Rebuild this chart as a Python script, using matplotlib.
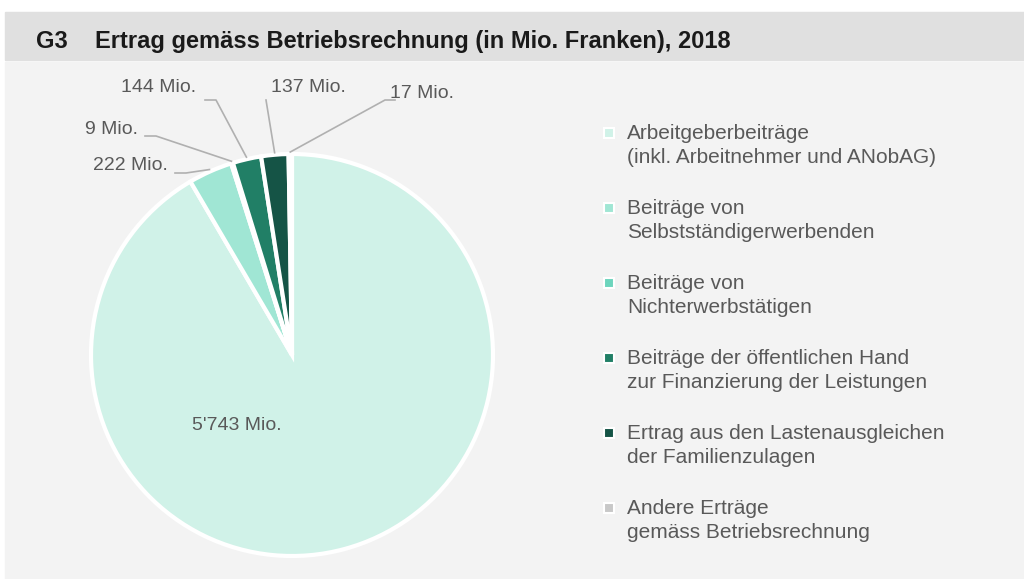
import matplotlib.pyplot as plt
from matplotlib.lines import Line2D
from matplotlib.patches import Rectangle
import numpy as np

plt.rcParams['font.family'] = ['Liberation Sans', 'DejaVu Sans']

# data
categories = ['Arbeitgeberbeiträge\n(inkl. Arbeitnehmer und ANobAG)',
              'Beiträge von\nSelbstständigerwerbenden',
              'Beiträge von\nNichterwerbstätigen',
              'Beiträge der öffentlichen Hand\nzur Finanzierung der Leistungen',
              'Ertrag aus den Lastenausgleichen\nder Familienzulagen',
              'Andere Erträge\ngemäss Betriebsrechnung']
values = [5743, 222, 9, 144, 137, 17]
value_labels = ["5'743 Mio.", '222 Mio.', '9 Mio.', '144 Mio.', '137 Mio.', '17 Mio.']
colors = ['#d0f2e8', '#a0e6d4', '#6dd5bd', '#217f66', '#155446', '#c8c8c8']

W, H = 1024, 579
fig = plt.figure(figsize=(W / 100, H / 100), dpi=100)
fig.patch.set_facecolor('white')

# background panels (figure pixel coords)
fig.patches.append(Rectangle((5 / W, 0), 1 - 5 / W, (H - 62) / H, transform=fig.transFigure,
                             color='#f3f3f3', zorder=-5))
fig.patches.append(Rectangle((5 / W, (H - 60) / H), 1 - 5 / W, 48 / H, transform=fig.transFigure,
                             color='#e0e0e0', zorder=-5))
fig.text(36 / W, 1 - 48 / H, 'G3', fontsize=17, fontweight='bold', color='#1a1a1a', va='baseline')
fig.text(95 / W, 1 - 48 / H, 'Ertrag gemäss Betriebsrechnung (in Mio. Franken), 2018',
         fontsize=17, fontweight='bold', color='#1a1a1a', va='baseline')

ax = fig.add_axes([0, 0, 1, 1])
ax.patch.set_alpha(0)

cx, cy, r = 292, H - 355, 201
wedges, _ = ax.pie(values, colors=colors, startangle=90, counterclock=False,
                   center=(cx, cy), radius=r, frame=True,
                   wedgeprops=dict(edgecolor='white', linewidth=3))
ax.set_xlim(0, W)
ax.set_ylim(0, H)
ax.set_aspect('equal')
ax.axis('off')

txt_kw = dict(fontsize=14, color='#595959')
ax.text(237, H - 425, value_labels[0], ha='center', va='center', **txt_kw)

# outside labels: text anchor (px), elbow (px)
label_pos = {1: ((168, 165), (186, 173)),
             2: ((138, 130), (156, 136)),
             3: ((196, 87), (216, 100)),
             4: ((308, 87), (266, 100)),
             5: ((390, 93), (385, 100))}
for i, ((tx, ty), (ex, ey)) in label_pos.items():
    w = wedges[i]
    ang = np.deg2rad((w.theta1 + w.theta2) / 2)
    px, py = cx + (r + 2) * np.cos(ang), cy + (r + 2) * np.sin(ang)
    if i in (1, 2, 3):
        x0 = ex - 11
        ax.plot([x0, ex, px], [H - ey, H - ey, py], color='#b0b0b0', lw=1.2)
        ax.text(tx, H - ty, value_labels[i], ha='right', va='center', **txt_kw)
    elif i == 4:
        ax.plot([ex, px], [H - ey, py], color='#b0b0b0', lw=1.2)
        ax.text(tx, H - ty, value_labels[i], ha='center', va='center', **txt_kw)
    else:
        ax.plot([ex + 10, ex, px], [H - ey, H - ey, py], color='#b0b0b0', lw=1.2)
        ax.text(tx, H - ty, value_labels[i], ha='left', va='center', **txt_kw)

# legend, marker aligned with the first text line
for i, (lab, c) in enumerate(zip(categories, colors)):
    y0 = 139 + 75 * i
    fig.add_artist(Line2D([609 / W], [1 - (y0 - 6) / H], marker='s', linestyle='none',
                          markersize=7, markerfacecolor=c, markeredgecolor='white',
                          markeredgewidth=1.5, transform=fig.transFigure))
    first, second = lab.split('\n')
    fig.text(627 / W, 1 - y0 / H, first, fontsize=15, color='#595959', va='baseline')
    fig.text(627 / W, 1 - (y0 + 24) / H, second, fontsize=15, color='#595959', va='baseline')

fig.savefig('out.png', dpi=100, facecolor=fig.get_facecolor())
